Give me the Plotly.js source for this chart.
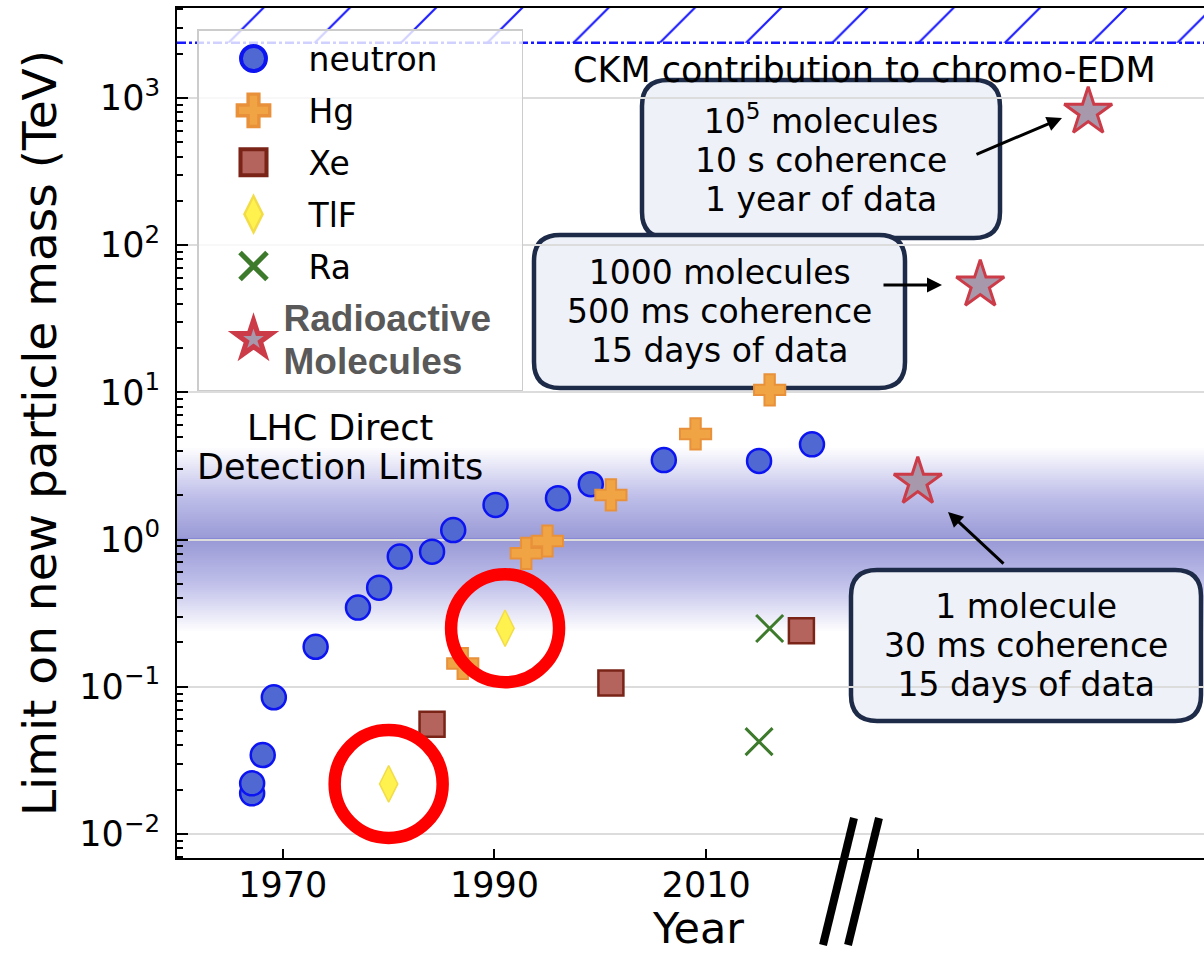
<!DOCTYPE html>
<html><head><meta charset="utf-8">
<script src="https://cdn.plot.ly/plotly-3.0.1.min.js"></script>
<style>html,body{margin:0;padding:0;overflow:hidden;background:#fff;width:1204px;height:953px}#chart{width:1230px;height:953px}</style>
</head><body><div id="chart"></div><script>
// ---- data ----
const neutronYear  = [1967.1, 1967.1, 1968.1, 1969.15, 1973.1, 1977.1, 1979.1, 1981.05, 1984.1, 1986.1, 1990.1, 1996.0, 1999.1, 2006.0, 2015.0, 2020.0];
const neutronLimit = [0.0189, 0.0221, 0.0344, 0.0849, 0.187, 0.345, 0.471, 0.766, 0.828, 1.16, 1.72, 1.91, 2.38, 3.47, 3.42, 4.44];
const hgYear  = [1987.0, 1993.0, 1995.0, 2001.0, 2009.0, 2016.0];
const hgLimit = [0.144, 0.807, 0.978, 2.01, 5.22, 10.4];
const xeYear  = [1984.1, 2001.0, 2019.0];
const xeLimit = [0.0556, 0.106, 0.240];
const tlfYear  = [1980.0, 1991.0];
const tlfLimit = [0.0219, 0.250];
const raYear  = [2016.0, 2015.0];
const raLimit = [0.249, 0.0424];
const moleculeYear  = [2030.0, 2035.9, 2046.1];   // projected, beyond the axis break
const moleculeLimit = [2.46, 53.7, 803];
const ckmLimit = 2370;     // CKM contribution to chromo-EDM
const lhcLimit = 1;        // LHC direct detection (TeV)
const xTickVals = [1970, 1990, 2010, 2030];
const xTickText = ['1970', '1990', '2010', ''];
const yTickVals = [0.01, 0.1, 1, 10, 100, 1000];
const yTickText = ['10<sup>−2</sup>', '10<sup>−1</sup>', '10<sup>0</sup>', '10<sup>1</sup>', '10<sup>2</sup>', '10<sup>3</sup>'];
const moleculeNotes = [
  '10<sup>5</sup> molecules<br>10 s coherence<br>1 year of data',
  '1000 molecules<br>500 ms coherence<br>15 days of data',
  '1 molecule<br>30 ms coherence<br>15 days of data'
];

// ---- geometry ----
const W = 1230, H = 953, ML = 177, MR = 10, MT = 8, MB = 95;
const PW = W - ML - MR, PH = H - MT - MB;
const xRange = [1960, 1960 + PW / 10.583];
const yRange = [-2.163, 3.611];
const X = px => (px - ML) / PW;
const Y = py => (MT + PH - py) / PH;
const yPaper = v => (Math.log10(v) - yRange[0]) / (yRange[1] - yRange[0]);
const FONT = 'DejaVu Sans, Verdana, sans-serif';

const minorVals = [];
for (let e = -3; e <= 4; e++) for (let m = 2; m <= 9; m++) minorVals.push(m * Math.pow(10, e));

const traces = [
  {type:'scatter', mode:'lines', x:[xRange[0], xRange[1], xRange[1], xRange[0]], y:[ckmLimit, ckmLimit, ckmLimit*100, ckmLimit*100],
   fill:'toself', fillcolor:'rgba(0,0,0,0)', line:{width:0}, showlegend:false, hoverinfo:'skip',
   fillpattern:{shape:'/', fgcolor:'#1a1aff', bgcolor:'rgba(0,0,0,0)', size:61, solidity:0.035}},
  {type:'scatter', mode:'lines', x:[xRange[0], xRange[1]], y:[ckmLimit, ckmLimit], showlegend:false, hoverinfo:'skip',
   line:{color:'#1a1aff', width:2.5, dash:'dashdot'}},
  {type:'scatter', mode:'markers', name:'neutron', x:neutronYear, y:neutronLimit, legendgroup:'a',
   marker:{symbol:'circle', size:24, color:'#5068d2', line:{color:'#0c14f2', width:2.5}}},
  {type:'scatter', mode:'markers', name:'Hg', x:hgYear, y:hgLimit, legendgroup:'b',
   marker:{symbol:'cross', size:26, color:'#f0a444', line:{color:'#e8913a', width:2}}},
  {type:'scatter', mode:'markers', name:'Xe', x:xeYear, y:xeLimit, legendgroup:'c',
   marker:{symbol:'square', size:25, color:'#b4645c', line:{color:'#7a2418', width:2.5}}},
  {type:'scatter', mode:'markers', name:'TlF', x:tlfYear, y:tlfLimit, legendgroup:'d',
   marker:{symbol:'diamond-tall', size:26, color:'#fff24e', line:{color:'#f2dc48', width:1.5}}},
  {type:'scatter', mode:'markers', name:'Ra', x:raYear, y:raLimit, legendgroup:'e',
   marker:{symbol:'x-thin-open', size:27, color:'#3d7a2c', line:{color:'#3d7a2c', width:3}}},
  {type:'scatter', mode:'markers', name:'<span style="font-family:Liberation Sans,Arial;font-weight:bold;font-size:37px;fill:#595959">Radioactive<br>Molecules</span>',
   x:moleculeYear, y:moleculeLimit, legendgroup:'f',
   marker:{symbol:'star', size:36, color:'#a898ac', line:{color:'#cc3b48', width:3}}},
  {type:'scatter', mode:'markers', x:tlfYear, y:tlfLimit, showlegend:false, hoverinfo:'skip',
   marker:{symbol:'circle-open', size:108, color:'#ff0000', line:{color:'#ff0000', width:12.5}}}
];
// size that each legend symbol should appear at (Plotly caps legend markers at 16px)
const legendSymbolSize = {a:25, b:27, c:26, d:26, e:27, f:27};
const legendTextShift = {f:-25};

const shapes = [];
// LHC band: stacked translucent strips give a gradient about the LHC limit
const N = 40, halfWidth = 0.62;
for (let i = 1; i <= N; i++) {
  const d = halfWidth * i / N;
  shapes.push({type:'rect', layer:'below', xref:'paper', yref:'paper', x0:0, x1:1,
    y0:yPaper(lhcLimit / Math.pow(10, d)), y1:yPaper(lhcLimit * Math.pow(10, d)),
    fillcolor:'rgb(70,75,220)', opacity:0.0167, line:{width:0}});
}
shapes.push({type:'line', layer:'between', xref:'paper', yref:'paper', x0:0, x1:1,
  y0:yPaper(lhcLimit), y1:yPaper(lhcLimit), line:{color:'rgb(118,120,214)', width:2}});

function roundBox(x0, y0, x1, y1, r) {
  const p = (a, b) => X(a).toFixed(5) + ',' + Y(b).toFixed(5);
  return 'M' + p(x0 + r, y0) + ' L' + p(x1 - r, y0) + ' Q' + p(x1, y0) + ' ' + p(x1, y0 + r) +
    ' L' + p(x1, y1 - r) + ' Q' + p(x1, y1) + ' ' + p(x1 - r, y1) +
    ' L' + p(x0 + r, y1) + ' Q' + p(x0, y1) + ' ' + p(x0, y1 - r) +
    ' L' + p(x0, y0 + r) + ' Q' + p(x0, y0) + ' ' + p(x0 + r, y0) + ' Z';
}
const boxes = [[642, 80, 1000, 238], [534, 235, 905, 388], [851, 570, 1201, 721]];
boxes.forEach(b => shapes.push({type:'path', layer:'between', xref:'paper', yref:'paper',
  path: roundBox(b[0], b[1], b[2], b[3], 26), fillcolor:'#eef1f7', line:{color:'#1d2a48', width:4.5}}));

// axis-break marks
[[854, 818, 823, 945], [879, 818, 848, 945]].forEach(s => shapes.push({type:'line', xref:'paper', yref:'paper',
  x0:X(s[0]), y0:Y(s[1]), x1:X(s[2]), y1:Y(s[3]), line:{color:'#000', width:8}}));

const annotations = [];
boxes.forEach((b, i) => annotations.push({xref:'paper', yref:'paper', x:X((b[0] + b[2]) / 2), y:Y((b[1] + b[3]) / 2),
  xanchor:'center', yanchor:'middle', showarrow:false, align:'center',
  text:'<span style="font-size:33px">' + moleculeNotes[i] + '</span>', font:{family:FONT, size:30, color:'#000'}}));
annotations.push({xref:'paper', yref:'paper', x:X(864), y:Y(70), xanchor:'center', yanchor:'middle', showarrow:false,
  text:'CKM contribution to chromo-EDM', font:{family:FONT, size:35, color:'#000'}});
annotations.push({xref:'paper', yref:'paper', x:X(340), y:Y(447), xanchor:'center', yanchor:'middle', showarrow:false,
  text:'<span style="font-size:35px">LHC Direct<br>Detection Limits</span>', font:{family:FONT, size:30, color:'#000'}});
// arrows from the boxes to the projected points
[[1062, 118, 975, 155], [942, 285, 882, 285], [948, 512, 1005, 565]].forEach(a => annotations.push({
  xref:'paper', yref:'paper', x:X(a[0]), y:Y(a[1]), ax:a[2] - a[0], ay:a[3] - a[1], text:'',
  showarrow:true, arrowhead:2, arrowsize:1, arrowwidth:3, arrowcolor:'#000'}));

const layout = {
  width: W, height: H, margin:{l:ML, r:MR, t:MT, b:MB}, paper_bgcolor:'#fff', plot_bgcolor:'#fff',
  font:{family:FONT, color:'#000'},
  xaxis:{range:xRange, showgrid:false, zeroline:false, showline:true, linecolor:'#000', linewidth:2, mirror:true,
    tickmode:'array', tickvals:xTickVals, ticktext:xTickText, ticks:'inside', ticklen:9, tickwidth:2, tickcolor:'#000',
    tickfont:{family:FONT, size:35}, ticklabelstandoff:-5,
    title:{text:'Year', font:{family:FONT, size:43}, standoff:22}},
  yaxis:{type:'log', range:yRange, showgrid:true, gridcolor:'#dcdcdc', gridwidth:2, zeroline:false, showline:true,
    linecolor:'#000', linewidth:2, mirror:true,
    tickmode:'array', tickvals:yTickVals, ticktext:yTickText, ticks:'inside', ticklen:11, tickwidth:2, tickcolor:'#000',
    tickfont:{family:FONT, size:35}, ticklabelstandoff:8,
    minor:{tickmode:'array', tickvals:minorVals, ticks:'inside', ticklen:6, tickwidth:2, tickcolor:'#000', showgrid:false},
    title:{text:'Limit on new particle mass (TeV)', font:{family:FONT, size:47}, standoff:8}},
  legend:{x:X(197), y:Y(29), xanchor:'left', yanchor:'top', bgcolor:'rgba(255,255,255,0.8)', bordercolor:'#cccccc',
    borderwidth:1.5, font:{family:FONT, size:33, color:'#000'}, traceorder:'grouped', tracegroupgap:6, itemwidth:100},
  showlegend:true, shapes:shapes, annotations:annotations, hovermode:false
};

const gd = document.getElementById('chart');
function styleLegend() {
  gd.querySelectorAll('.legend .traces').forEach(tr => {
    const d = tr.__data__ && tr.__data__[0] && tr.__data__[0].trace;
    if (!d || !legendSymbolSize[d.legendgroup]) return;
    const f = legendSymbolSize[d.legendgroup] / 16;
    tr.querySelectorAll('.legendpoints path.scatterpts').forEach(p => {
      const t = (p.getAttribute('transform') || '').replace(/\s*scale\([^)]*\)/, '');
      p.setAttribute('transform', t + ' scale(' + f.toFixed(3) + ')');
    });
    const shift = legendTextShift[d.legendgroup];
    if (shift) tr.querySelectorAll('text.legendtext').forEach(t => t.setAttribute('transform', 'translate(' + shift + ',0)'));
  });
}
Plotly.newPlot(gd, traces, layout, {displayModeBar:false, staticPlot:true}).then(() => {
  styleLegend();
  gd.on('plotly_afterplot', styleLegend);
});
</script></body></html>
